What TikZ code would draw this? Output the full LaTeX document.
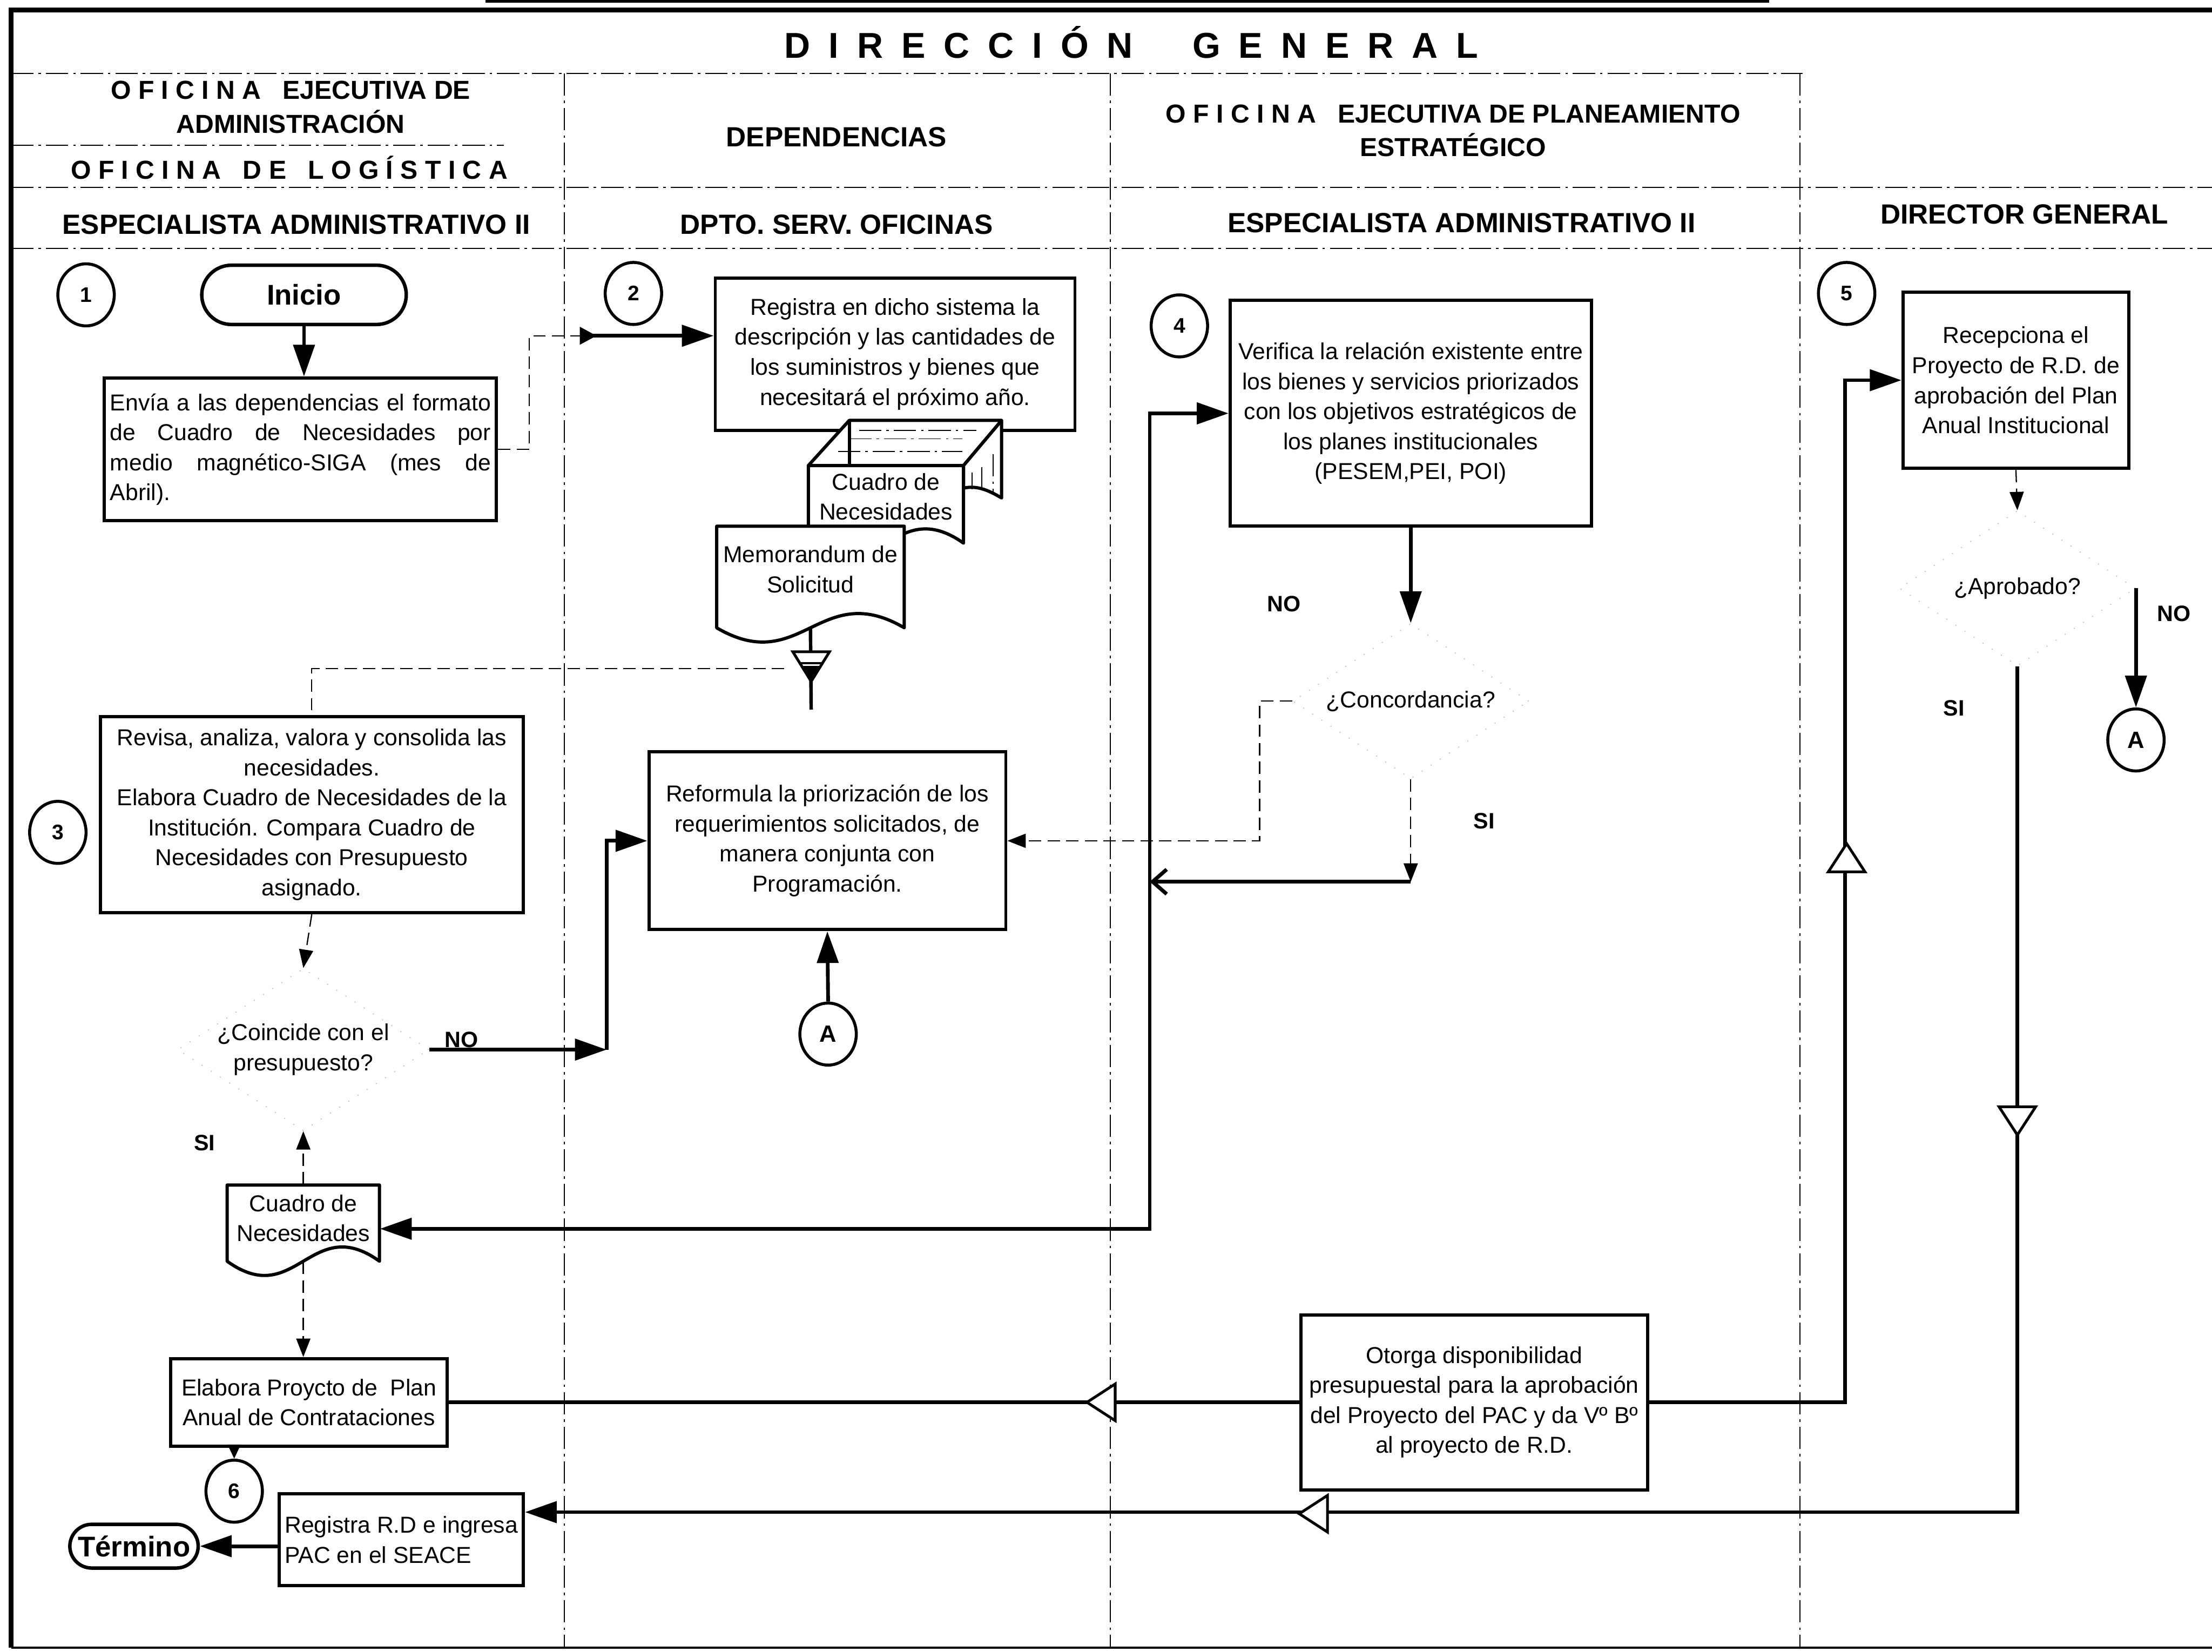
\documentclass[tikz,border=0pt]{standalone}
\usepackage{fontspec}
\setmainfont{Liberation Sans}
\usetikzlibrary{arrows.meta,calc,shapes.geometric}

\newcommand{\bodyfont}{\fontsize{9.3}{12.1}\selectfont}
\newcommand{\headfont}{\bfseries\fontsize{11.2}{13}\selectfont}
\newcommand{\officefont}{\bfseries\fontsize{10.5}{13.6}\selectfont}

% document symbol: left, top, right, end of the wave
\newcommand{\docshape}[4]{%
  \draw[docline] (#1,#4) -- (#1,#2) -- (#3,#2) -- (#3,#4)
    .. controls ({#3-0.45*(#3-#1)},{#4-35}) and ({#1+0.45*(#3-#1)},{#4+35}) .. (#1,#4) -- cycle;}

\tikzset{
  laneline/.style={line width=0.45pt, dash pattern=on 9pt off 2pt on 1pt off 2pt},
  procbox/.style={draw, line width=1.3pt, font=\bodyfont, align=center, inner sep=2pt},
  termbox/.style={draw, line width=1.4pt, font=\bfseries\fontsize{11.5}{13}\selectfont, inner sep=0pt},
  decbox/.style={diamond, aspect=1.55, draw=black!25, loosely dotted, line width=0.4pt,
                 font=\bodyfont, align=center, inner sep=0pt,
                 minimum width=3.35cm, minimum height=2.2cm},
  stepnum/.style={ellipse, draw, line width=1.2pt, minimum width=0.8cm, minimum height=0.88cm,
                  inner sep=0pt, font=\bfseries\fontsize{8.5}{10}\selectfont},
  joint/.style={stepnum, font=\bfseries\fontsize{9.5}{11}\selectfont},
  doctext/.style={font=\bodyfont, align=center, inner sep=0pt},
  docline/.style={draw, line width=1.3pt, fill=white, line join=round},
  flowline/.style={line width=1.5pt},
  flowarrow/.style={flowline, -{Triangle[length=4.5mm,width=3mm]}},
  dashline/.style={line width=0.5pt, dash pattern=on 5pt off 2.5pt},
  dashlink/.style={dashline, -{Triangle[length=2.6mm,width=2mm]}},
  branch/.style={font=\bfseries\fontsize{9}{10}\selectfont},
  headtext/.style={font=\headfont, align=center},
  officetext/.style={font=\officefont, align=center},
  opentip/.pic={\draw[line width=1.1pt, fill=white] (-10,-13) -- (10,0) -- (-10,13) -- cycle;}
}

\begin{document}
\begin{tikzpicture}[x=0.02cm, y=-0.02cm]
  \useasboundingbox (0,0) rectangle (1568,1171);

  % Frame and title
  \draw[line width=1.2pt] (344,1) -- (1254,1);
  \draw[line width=2pt] (1568,7) -- (8,7) -- (8,1168);
  \draw[line width=0.8pt] (8,1168) -- (1568,1168);
  \node[font={\bfseries\fontsize{14.5}{17}\selectfont\spaceskip=7.4pt\relax}] (title) at (802,30)
    {D I R E C C I Ó N\hspace{24pt}G E N E R A L};

  % Lanes
  \draw[laneline] (8,52) -- (1278,52);
  \draw[laneline] (8,103) -- (357,103);
  \draw[laneline] (8,133) -- (1568,133);
  \draw[laneline] (8,176) -- (1568,176);
  \foreach \x in {400,787,1276}
    \draw[laneline] (\x,52) -- (\x,1168);

  \node[officetext] (adm) at (206,76) {O F I C I N A\ \ \ EJECUTIVA DE\\ADMINISTRACIÓN};
  \node[officetext] (logi) at (205,119) {O F I C I N A\ \ \ D E\ \ \ L O G Í S T I C A};
  \node[headtext] (depn) at (593,97) {DEPENDENCIAS};
  \node[officetext] (plan) at (1030,92.5) {O F I C I N A\ \ \ EJECUTIVA DE PLANEAMIENTO\\ESTRATÉGICO};
  \node[headtext] (esp1) at (210,159) {ESPECIALISTA ADMINISTRATIVO II};
  \node[headtext] (dpto) at (593,159) {DPTO. SERV. OFICINAS};
  \node[headtext] (esp2) at (1036,158) {ESPECIALISTA ADMINISTRATIVO II};
  \node[headtext] (dirg) at (1435,152) {DIRECTOR GENERAL};

  % Especialista administrativo (logistica)
  \node[stepnum] (c1) at (61,209) {1};
  \node[termbox, rounded corners=0.42cm, minimum width=2.9cm, minimum height=0.84cm] (start) at (215.5,209) {Inicio};
  \node[procbox, align=justify, text width=5.4cm, minimum width=5.56cm, minimum height=2.02cm] (send) at (213,318.5)
    {Envía a las dependencias el formato\linebreak de Cuadro de Necesidades por\linebreak medio magnético-SIGA (mes de\linebreak Abril).};
  \node[stepnum] (c3) at (41,590) {3};
  \node[procbox, minimum width=6cm, minimum height=2.78cm] (rev) at (221,577.5)
    {Revisa, analiza, valora y consolida las\\necesidades.\\Elabora Cuadro de Necesidades de la\\Institución. Compara Cuadro de\\Necesidades con Presupuesto\\asignado.};
  \node[decbox] (dec1) at (215,744) {¿Coincide con el\\presupuesto?};
  \node[branch] (no1) at (327,737) {NO};
  \node[branch] (si1) at (145,810) {SI};
  \docshape{161}{840}{269}{894}
  \node[doctext, minimum width=2.16cm, minimum height=0.94cm] (cuad1) at (215,863.5) {Cuadro de\\Necesidades};
  \node[procbox, minimum width=3.92cm, minimum height=1.24cm] (elab) at (219,994) {Elabora Proycto de\ \ Plan\\Anual de Contrataciones};
  \node[stepnum] (c6) at (166,1057) {6};
  \node[procbox, align=left, minimum width=3.46cm, minimum height=1.3cm] (regi) at (284.5,1091.5) {Registra R.D e ingresa\\PAC en el SEACE};
  \node[termbox, rounded corners=0.31cm, minimum width=1.82cm, minimum height=0.62cm] (stop) at (95,1096) {Término};

  % Dependencias
  \node[stepnum] (c2) at (449,208) {2};
  \node[procbox, minimum width=5.1cm, minimum height=2.16cm] (reg) at (634.5,251)
    {Registra en dicho sistema la\\descripción y las cantidades de\\los suministros y bienes que\\necesitará el próximo año.};
  % Cuadro de Necesidades drawn with depth
  \draw[docline] (573,330) -- (602,298) -- (710,298) -- (683,330) -- cycle;
  \draw[docline] (683,330) -- (710,298) -- (710,353) .. controls (700,347) and (692,344) .. (683,346) -- cycle;
  \draw[line width=1.3pt] (602,298) -- (602,330);
  \foreach \y/\a/\b in {305/609/692, 311/602/682, 320/594/682}
    \draw[laneline, line width=0.4pt] (\a,\y) -- (\b,\y);
  \foreach \x/\a/\b in {689/335/347, 696/331/349, 704/322/350}
    \draw[laneline, line width=0.4pt] (\x,\a) -- (\x,\b);
  \docshape{573}{330}{683}{385}
  \node[doctext, minimum width=2.2cm, minimum height=0.88cm] (cuad) at (628,352) {Cuadro de\\Necesidades};
  \docshape{508}{373}{641}{445}
  \node[doctext, minimum width=2.66cm, minimum height=1.22cm] (memo) at (574.5,403.5) {Memorandum de\\Solicitud};
  \coordinate (tri) at (575,462);
  \draw[line width=1.4pt] ($(memo.south)+(0,11)$) -- ($(tri)+(0,41)$);
  \draw[line width=1.1pt, fill=white] ($(tri)+(-13,0)$) -- ($(tri)+(13,0)$) -- ($(tri)+(0,21)$) -- cycle;
  \draw[line width=0.9pt] ($(tri)+(-8.5,8)$) -- ($(tri)+(8.5,8)$);
  \fill ($(tri)+(-7,10)$) -- ($(tri)+(7,10)$) -- ($(tri)+(0,21)$) -- cycle;
  \node[procbox, minimum width=5.06cm, minimum height=2.52cm] (refo) at (586.5,596)
    {Reformula la priorización de los\\requerimientos solicitados, de\\manera conjunta con\\Programación.};
  \node[joint] (ca1) at (587,733) {A};

  % Planeamiento estrategico
  \node[stepnum] (c4) at (836,231) {4};
  \node[procbox, minimum width=5.12cm, minimum height=3.2cm] (veri) at (1000,293)
    {Verifica la relación existente entre\\los bienes y servicios priorizados\\con los objetivos estratégicos de\\los planes institucionales\\(PESEM,PEI, POI)};
  \node[decbox] (dec2) at (1000,497) {¿Concordancia?};
  \node[branch] (no2) at (910,428) {NO};
  \node[branch] (si2) at (1052,582) {SI};
  \node[procbox, minimum width=4.92cm, minimum height=2.48cm] (otor) at (1045,994)
    {Otorga disponibilidad\\presupuestal para la aprobación\\del Proyecto del PAC y da Vº Bº\\al proyecto de R.D.};

  % Director general
  \node[stepnum] (c5) at (1309,208) {5};
  \node[procbox, minimum width=3.2cm, minimum height=2.5cm] (rece) at (1429,269.5)
    {Recepciona el\\Proyecto de R.D. de\\aprobación del Plan\\Anual Institucional};
  \node[decbox] (dec3) at (1430,417) {¿Aprobado?};
  \node[branch] (no3) at (1541,435) {NO};
  \node[branch] (si3) at (1385,502) {SI};
  \node[joint] (ca2) at (dec3.east |- 0,524.5) {A};

  % Connectors
  \draw[flowarrow] (start.south) -- (start.south |- send.north);
  \coordinate (p1) at (411,238);
  \draw[dashline] (send.east) -- ++(22,0) |- (p1);
  \draw[flowline, arrows={Triangle[reversed,length=2.4mm,width=2.4mm]-Triangle[length=4.5mm,width=3mm]}]
    (p1) -- (reg.west |- p1);
  \draw[dashline] ($(tri)+(-19,12)$) -| (rev.north);
  \draw[dashlink] (rev.south) -- (dec1.north);
  \coordinate (j1) at (430,744);
  \draw[flowarrow] (dec1.east) -- (j1);
  \draw[flowarrow] (j1) |- (refo.west);
  \draw[flowarrow] (ca1.north) -- (refo.south);
  \draw[dashlink] (cuad1.north) -- (dec1.south);
  \draw[dashlink] ($(cuad1.south)+(0,7)$) -- (cuad1.south |- elab.north);
  \draw[line width=0.8pt, -{Triangle[length=2mm,width=1.8mm]}] (elab.south -| c6) -- (c6.north);
  \draw[flowarrow] (regi.west |- stop) -- (stop.east);

  \draw[flowarrow] (veri.south) -- (dec2.north);
  \draw[dashlink] (dec2.west) -- ++(-23,0) |- (refo.east);
  \coordinate (j2) at (dec2.south |- 0,625);
  \coordinate (j3) at (815,625);
  \draw[dashlink] (dec2.south) -- (j2);
  \draw[flowline, -{Straight Barb[length=2mm,width=3.5mm]}] (j2) -- (j3);
  \draw[flowarrow] (j3) |- (veri.west);
  \draw[flowarrow] (j3) |- ($(cuad1.east)+(0,7.5)$);

  \draw[dashlink] (rece.south) -- (dec3.north);
  \draw[flowarrow] (dec3.east) -- (ca2.north);
  \draw[flowarrow] (dec3.south) |- ($(regi.north east)+(0,14)$);
  \pic[rotate=-90] at (1430,794.5) {opentip};
  \pic[rotate=180] at (931,1073) {opentip};
  \draw[flowline] (otor.west) -- (elab.east);
  \pic[rotate=180] at (780.5,994) {opentip};
  \draw[flowarrow] (otor.east) -| ($(rece.west)+(-40,0)$) -- (rece.west);
  \pic[rotate=90] at (1309,608) {opentip};
\end{tikzpicture}
\end{document}
